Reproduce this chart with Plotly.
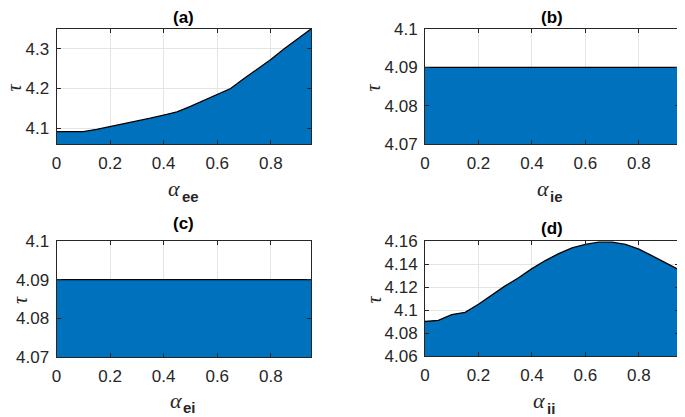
import plotly.graph_objects as go

# page body has an 8px margin, so the figure is offset by 8px inside the 685x417 window
OFF = 8
W, H = 685 - OFF, 417 - OFF

alpha = [0.0, 0.05, 0.1, 0.15, 0.2, 0.25, 0.3, 0.35, 0.4, 0.45, 0.5,
         0.55, 0.6, 0.65, 0.7, 0.75, 0.8, 0.85, 0.9, 0.95]

tau_ee = [4.091, 4.091, 4.091, 4.097, 4.104, 4.110, 4.117, 4.125, 4.133, 4.141, 4.155,
          4.170, 4.187, 4.200, 4.225, 4.248, 4.273, 4.300, 4.325, 4.350]
tau_ie = [4.09] * 20
tau_ei = [4.09] * 20
tau_ii = [4.090, 4.091, 4.096, 4.098, 4.105, 4.113, 4.121, 4.128, 4.136, 4.143, 4.149,
          4.154, 4.157, 4.159, 4.159, 4.157, 4.153, 4.147, 4.141, 4.135]

titles = ["(a)", "(b)", "(c)", "(d)"]
subs = ["ee", "ie", "ei", "ii"]
series = [tau_ee, tau_ie, tau_ei, tau_ii]

x_ticks = [0, 0.2, 0.4, 0.6, 0.8]
x_ticktext = ["0", "0.2", "0.4", "0.6", "0.8"]
y_ranges = [[4.06, 4.35], [4.07, 4.1], [4.07, 4.1], [4.06, 4.16]]
y_ticks = [[4.1, 4.2, 4.3], [4.07, 4.08, 4.09, 4.1], [4.07, 4.08, 4.09, 4.1],
           [4.06, 4.08, 4.1, 4.12, 4.14, 4.16]]
y_ticktext = [["4.1", "4.2", "4.3"], ["4.07", "4.08", "4.09", "4.1"],
              ["4.07", "4.08", "4.09", "4.1"],
              ["4.06", "4.08", "4.1", "4.12", "4.14", "4.16"]]

# plot areas in window pixels: x0, x1, y0(top), y1(bottom)
boxes = [(56.5, 311, 29, 144), (425, 679, 29, 144),
         (56.5, 311, 241, 357), (425, 679, 241, 356)]
title_y = [17, 17, 223, 228]
alpha_right = [180, 549, 182, 545]
alpha_y = [188, 188, 400, 400]
sub_left = [182, 550, 183, 547]
sub_y = [197, 197, 407, 408]
ylab_x = [14, 373, 8, 373]


def px(v):
    return (v - OFF) / W


def py(v):
    return 1 - (v - OFF) / H


BLUE = "#0072BD"
AX = "#262626"
FONT = "Liberation Sans"

fig = go.Figure()
ann = []
for i in range(4):
    x0, x1, y0, y1 = boxes[i]
    xa = "x" if i == 0 else f"x{i+1}"
    ya = "y" if i == 0 else f"y{i+1}"
    fig.add_trace(go.Scatter(x=alpha, y=series[i], mode="lines", fill="tozeroy",
                             fillcolor=BLUE, line=dict(color="black", width=1.3),
                             xaxis=xa, yaxis=ya, showlegend=False, hoverinfo="skip"))
    common = dict(showline=True, mirror="ticks", linecolor=AX, linewidth=1,
                  ticks="inside", ticklen=4, tickcolor=AX, showgrid=True,
                  gridcolor="#e4e4e4", gridwidth=1, zeroline=False, automargin=False,
                  tickfont=dict(family=FONT, size=17, color=AX))
    xkey = "xaxis" if i == 0 else f"xaxis{i+1}"
    ykey = "yaxis" if i == 0 else f"yaxis{i+1}"
    fig.layout[xkey] = dict(domain=[px(x0), px(x1)], range=[0, 0.95],
                            tickvals=x_ticks, ticktext=x_ticktext,
                            anchor=ya, ticklabelstandoff=4, **common)
    fig.layout[ykey] = dict(domain=[py(y1), py(y0)], range=y_ranges[i],
                            tickvals=y_ticks[i], ticktext=y_ticktext[i],
                            anchor=xa, ticklabelstandoff=3, **common)
    cx = (x0 + x1) / 2
    ann.append(dict(text="<b>" + titles[i] + "</b>", x=px(cx), y=py(title_y[i]),
                    xref="paper", yref="paper", showarrow=False,
                    xanchor="center", yanchor="middle",
                    font=dict(family=FONT, size=17, color="black")))
    ann.append(dict(text="<i>α</i>", x=px(alpha_right[i] + 1), y=py(alpha_y[i]),
                    xref="paper", yref="paper", showarrow=False,
                    xanchor="right", yanchor="middle", borderpad=0,
                    font=dict(family="Liberation Serif", size=22, color=AX)))
    ann.append(dict(text="<b>" + subs[i] + "</b>", x=px(sub_left[i] - 1), y=py(sub_y[i]),
                    xref="paper", yref="paper", showarrow=False,
                    xanchor="left", yanchor="middle", borderpad=0,
                    font=dict(family=FONT, size=15, color=AX)))
    lx = px(ylab_x[i])
    ann.append(dict(text="<i>τ</i>", x=max(lx, 0.0),
                    y=py((y0 + y1) / 2 + 1),
                    xref="paper", yref="paper", showarrow=False, textangle=-90,
                    xanchor="center" if lx > 0 else "left",
                    yanchor="middle", borderpad=0,
                    font=dict(family="Liberation Serif", size=20, color=AX)))

fig.update_layout(width=W, height=H, margin=dict(l=0, r=0, t=0, b=0),
                  paper_bgcolor="white", plot_bgcolor="white",
                  annotations=ann)
fig.write_html("out.html")
